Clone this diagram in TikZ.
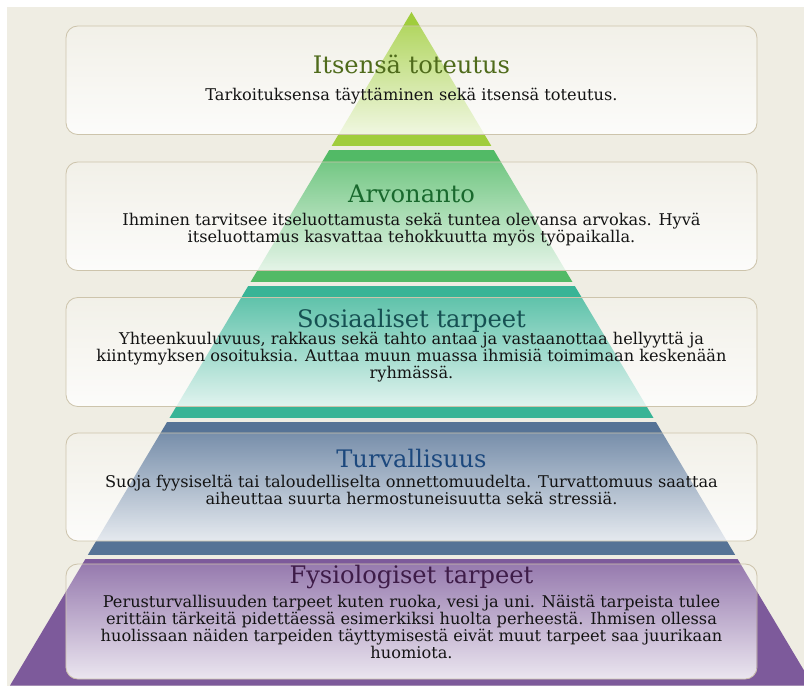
\documentclass[tikz,border=0pt]{standalone}
\usepackage{fontspec}
\setmainfont{DejaVu Serif}
\usetikzlibrary{fadings}
\definecolor{tausta}{RGB}{239,237,227}
\definecolor{reuna}{RGB}{205,196,172}
\definecolor{kerros1}{RGB}{160,205,60}
\definecolor{kerros2}{RGB}{82,186,102}
\definecolor{kerros3}{RGB}{56,180,150}
\definecolor{kerros4}{RGB}{86,115,150}
\definecolor{kerros5}{RGB}{125,90,155}
\definecolor{otsikko1}{RGB}{79,107,27}
\definecolor{otsikko2}{RGB}{25,105,45}
\definecolor{otsikko3}{RGB}{22,80,82}
\definecolor{otsikko4}{RGB}{28,72,125}
\definecolor{otsikko5}{RGB}{62,28,72}
\definecolor{tekstivari}{RGB}{20,20,20}
\tikzfading[name=haivytys, top color=transparent!80, middle color=transparent!50, bottom color=transparent!15]

\begin{document}
\begin{tikzpicture}[x=0.3mm, y=-0.3mm, line join=round, line cap=round]
	\tikzset{laatikko/.style={rounded corners=10pt, fill=white, path fading=haivytys},
		reunaviiva/.style={rounded corners=10pt, draw=reuna, line width=0.7pt},
		otsikko/.style={anchor=base, inner sep=0pt, font=\fontsize{20.6}{22}\selectfont},
		teksti/.style={anchor=north, inner sep=0pt, align=center, text=tekstivari, font=\fontsize{13.8}{13.2}\selectfont}}
	\useasboundingbox (0,0) rectangle (804,687);
	\fill[white] (0,0) rectangle (804,687);
	\fill[tausta] (7,7) rectangle (804,685.5);
	% pyramidi
	\begin{scope}
		\clip (411.5,12) -- (10,685.5) -- (813,685.5) -- cycle;
		\foreach \ya/\yb/\c in {12/145.5/kerros1, 149.5/281.5/kerros2, 285.5/417.5/kerros3, 421.5/554.5/kerros4, 558.5/685.5/kerros5}
			\fill[\c] (0,\ya) rectangle (820,\yb);
	\end{scope}
	% laatikot
	\foreach \ya/\yb in {26/134.5, 162/270.5, 297.5/406.5, 433/541, 564/679}{
		\fill[laatikko] (66,\ya) rectangle (757,\yb);
		\draw[reunaviiva] (66,\ya) rectangle (757,\yb);
	}
	\node[otsikko, text=otsikko1] (o1) at (411.5,73) {Itsensä toteutus};
	\node[teksti] (t1) at (411.5,88) {Tarkoituksensa täyttäminen sekä itsensä toteutus.};
	\node[otsikko, text=otsikko2] (o2) at (411.5,202) {Arvonanto};
	\node[teksti] (t2) at (411.5,213) {Ihminen tarvitsee itseluottamusta sekä tuntea olevansa arvokas. Hyvä\\ itseluottamus kasvattaa tehokkuutta myös työpaikalla.};
	\node[otsikko, text=otsikko3] (o3) at (411.5,327) {Sosiaaliset tarpeet};
	\node[teksti] (t3) at (411.5,332) {Yhteenkuuluvuus, rakkaus sekä tahto antaa ja vastaanottaa hellyyttä ja\\ kiintymyksen osoituksia. Auttaa muun muassa ihmisiä toimimaan keskenään\\ ryhmässä.};
	\node[otsikko, text=otsikko4] (o4) at (411.5,467) {Turvallisuus};
	\node[teksti] (t4) at (411.5,475) {Suoja fyysiseltä tai taloudelliselta onnettomuudelta. Turvattomuus saattaa\\ aiheuttaa suurta hermostuneisuutta sekä stressiä.};
	\node[otsikko, text=otsikko5] (o5) at (411.5,583) {Fysiologiset tarpeet};
	\node[teksti] (t5) at (411.5,595) {Perusturvallisuuden tarpeet kuten ruoka, vesi ja uni. Näistä tarpeista tulee\\ erittäin tärkeitä pidettäessä esimerkiksi huolta perheestä. Ihmisen ollessa\\ huolissaan näiden tarpeiden täyttymisestä eivät muut tarpeet saa juurikaan\\ huomiota.};
\end{tikzpicture}
\end{document}
